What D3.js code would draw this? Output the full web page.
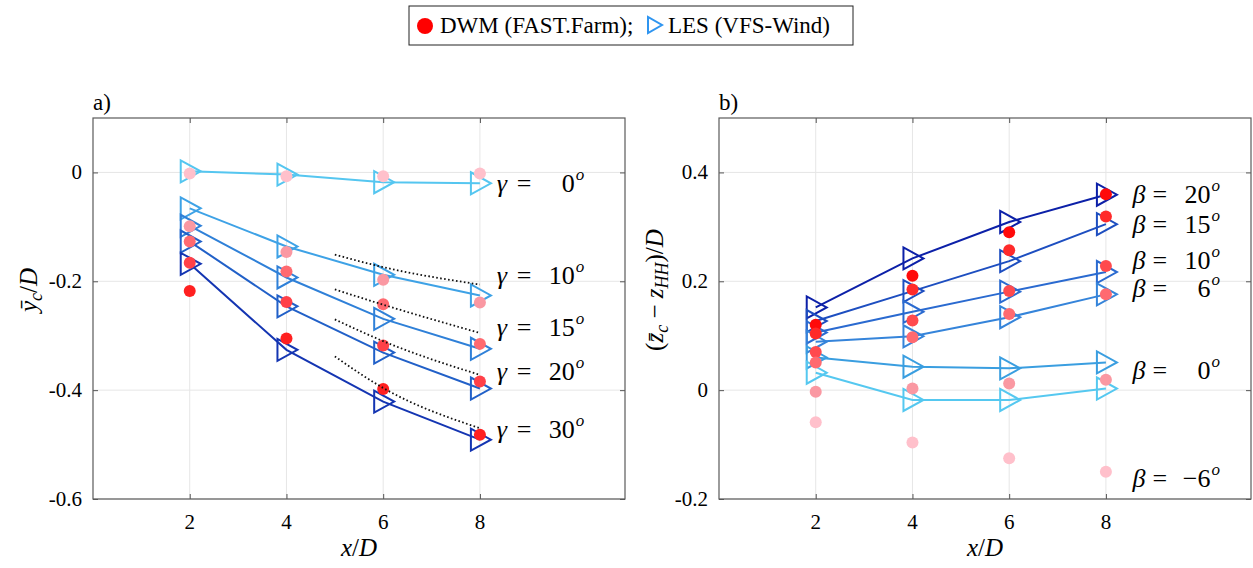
<!DOCTYPE html>
<html>
<head>
<meta charset="utf-8">
<script src="https://cdn.jsdelivr.net/npm/d3@7"></script>
</head>
<body>
<svg id="chart" width="1253" height="568" style="position:absolute;left:0;top:0"></svg>
<script>
// downstream positions
const xD = [2, 4, 6, 8];
const xTicks = [2, 4, 6, 8];

// panel a: yaw cases
const gammaCases = ['0', '10', '15', '20', '30'];
const lesYc = [
  [0.002, -0.004, -0.018, -0.020],
  [-0.066, -0.136, -0.188, -0.226],
  [-0.098, -0.193, -0.269, -0.324],
  [-0.127, -0.246, -0.331, -0.397],
  [-0.168, -0.326, -0.421, -0.491]
];
const dwmYc = [
  [-0.002, -0.007, -0.007, -0.002],
  [-0.099, -0.146, -0.197, -0.239],
  [-0.127, -0.182, -0.242, -0.315],
  [-0.166, -0.238, -0.318, -0.384],
  [-0.218, -0.305, -0.398, -0.482]
];
const dottedX = [5, 6, 8];
const dottedYc = [
  [-0.151, -0.174, -0.206],
  [-0.215, -0.243, -0.295],
  [-0.270, -0.310, -0.372],
  [-0.338, -0.396, -0.470]
];
const yTicksA = [0, -0.2, -0.4, -0.6];

// panel b: tilt cases
const betaCases = ['20', '15', '10', '6', '0', '\u22126'];
const lesZc = [
  [0.152, 0.242, 0.309, 0.359],
  [0.127, 0.182, 0.237, 0.305],
  [0.106, 0.144, 0.181, 0.217],
  [0.089, 0.099, 0.134, 0.176],
  [0.060, 0.043, 0.040, 0.051],
  [0.032, -0.018, -0.018, 0.003]
];
const dwmZc = [
  [0.120, 0.210, 0.290, 0.360],
  [0.104, 0.185, 0.257, 0.319],
  [0.070, 0.128, 0.182, 0.228],
  [0.051, 0.097, 0.140, 0.176],
  [-0.003, 0.003, 0.012, 0.019],
  [-0.059, -0.096, -0.125, -0.150]
];
const yTicksB = [-0.2, 0, 0.2, 0.4];

// colours
const lesColA = ['#55c6f0', '#3ea2e6', '#2f80d8', '#2160c8', '#1435b2'];
const dwmColA = ['#ffc0cb', '#fa98a2', '#ff6a70', '#ff4048', '#ff2020'];
const lesColB = ['#0c20a8', '#1d4ec0', '#2a6ad0', '#3584da', '#3a9ee0', '#55c8f0'];
const dwmColB = ['#ff0a0a', '#ff2a2a', '#ff4a4e', '#ff6a70', '#fa98a2', '#ffc0cb'];

// label anchors (data units)
const labelYA = [-0.022, -0.191, -0.285, -0.366, -0.473];
const labelYB = [0.358, 0.303, 0.237, 0.185, 0.035, -0.163];

const FONT = '"Liberation Serif"';
const svg = d3.select('#chart');

const tri = 'M-9,-11L-9,11L11,0Z';

function txt(sel, size, italic) {
  const t = sel.append('text').style('font-family', FONT).style('font-size', size + 'px');
  if (italic) t.style('font-style', 'italic');
  return t;
}

function panel(opts) {
  const { left, right, top, bottom, yDomain, yTicks, les, dwm, lesCol, dwmCol } = opts;
  const x = d3.scaleLinear().domain([0, 11]).range([left, right]);
  const y = d3.scaleLinear().domain(yDomain).range([bottom, top]);
  const g = svg.append('g');

  // grid
  g.selectAll('.gx').data(xTicks).enter().append('line')
    .attr('x1', d => x(d)).attr('x2', d => x(d)).attr('y1', top).attr('y2', bottom)
    .attr('stroke', '#e6e6e6').attr('stroke-width', 1);
  g.selectAll('.gy').data(yTicks).enter().append('line')
    .attr('x1', left).attr('x2', right).attr('y1', d => y(d)).attr('y2', d => y(d))
    .attr('stroke', '#e6e6e6').attr('stroke-width', 1);

  // axes: tick marks from d3, labels drawn as own text
  g.append('g').attr('transform', `translate(0,${bottom})`)
    .call(d3.axisBottom(x).tickValues(xTicks).tickSizeInner(-5).tickSizeOuter(0).tickFormat(''));
  g.append('g').attr('transform', `translate(0,${top})`)
    .call(d3.axisTop(x).tickValues(xTicks).tickSizeInner(-5).tickSizeOuter(0).tickFormat(''));
  g.append('g').attr('transform', `translate(${left},0)`)
    .call(d3.axisLeft(y).tickValues(yTicks).tickSizeInner(-5).tickSizeOuter(0).tickFormat(''));
  g.append('g').attr('transform', `translate(${right},0)`)
    .call(d3.axisRight(y).tickValues(yTicks).tickSizeInner(-5).tickSizeOuter(0).tickFormat(''));
  g.selectAll('.domain').remove();
  g.selectAll('.tick line').attr('stroke', '#555');
  g.selectAll('.tick text').remove();

  xTicks.forEach(v => {
    txt(g, 21).attr('x', x(v)).attr('y', bottom + 30).attr('text-anchor', 'middle').text(String(v));
  });
  yTicks.forEach(v => {
    txt(g, 21).attr('x', left - 11).attr('y', y(v) + 7).attr('text-anchor', 'end').text(String(v));
  });

  g.append('rect').attr('x', left).attr('y', top).attr('width', right - left).attr('height', bottom - top)
    .attr('fill', 'none').attr('stroke', '#5a5a5a').attr('stroke-width', 1.2);

  const line = d3.line().x((d, i) => x(xD[i])).y(d => y(d));

  les.forEach((s, k) => {
    g.append('path').attr('d', line(s)).attr('fill', 'none')
      .attr('stroke', lesCol[k]).attr('stroke-width', 2);
  });
  les.forEach((s, k) => {
    g.selectAll(null).data(s).enter().append('path')
      .attr('d', tri)
      .attr('transform', (d, i) => `translate(${x(xD[i])},${y(d)})`)
      .attr('fill', 'none').attr('stroke', lesCol[k]).attr('stroke-width', 2);
  });
  dwm.forEach((s, k) => {
    g.selectAll(null).data(s).enter().append('circle')
      .attr('cx', (d, i) => x(xD[i])).attr('cy', d => y(d)).attr('r', 6)
      .attr('fill', dwmCol[k]);
  });
  return { g, x, y };
}

const A = panel({
  left: 93, right: 625, top: 118, bottom: 499, yDomain: [-0.6, 0.1], yTicks: yTicksA,
  les: lesYc, dwm: dwmYc, lesCol: lesColA, dwmCol: dwmColA
});
const B = panel({
  left: 719, right: 1251, top: 118, bottom: 499, yDomain: [-0.2, 0.5], yTicks: yTicksB,
  les: lesZc, dwm: dwmZc, lesCol: lesColB, dwmCol: dwmColB
});

// dotted reference lines in panel a
const dl = d3.line().curve(d3.curveMonotoneX).x((d, i) => A.x(dottedX[i])).y(d => A.y(d));
dottedYc.forEach(s => {
  A.g.append('path').attr('d', dl(s)).attr('fill', 'none')
    .attr('stroke', '#111').attr('stroke-width', 1.8).attr('stroke-dasharray', '1.6,2.4');
});

// case labels
function caseLabel(g, px, py, sym, num) {
  const t = g.append('g').attr('transform', `translate(${px},${py})`);
  txt(t, 26, true).attr('x', 0).attr('y', 8).text(sym);
  txt(t, 26).attr('x', 20).attr('y', 8).text('=');
  txt(t, 26).attr('x', 78).attr('y', 8).attr('text-anchor', 'end').text(num);
  txt(t, 17, true).attr('x', 79).attr('y', -4).text('o');
}
gammaCases.forEach((c, k) => caseLabel(A.g, A.x(8.35), A.y(labelYA[k]), '\u03b3', c));
betaCases.forEach((c, k) => caseLabel(B.g, B.x(8.55), B.y(labelYB[k]), '\u03b2', c));

// panel tags
txt(svg, 23).attr('x', 93).attr('y', 110).text('a)');
txt(svg, 23).attr('x', 719).attr('y', 110).text('b)');

// x labels
[A, B].forEach(P => {
  const t = txt(svg, 25).attr('x', P.x(5.5)).attr('y', 556).attr('text-anchor', 'middle');
  t.append('tspan').style('font-style', 'italic').text('x');
  t.append('tspan').text('/');
  t.append('tspan').style('font-style', 'italic').text('D');
});

// y labels
const ya = txt(svg, 25).attr('transform', 'translate(37,290) rotate(-90)').attr('text-anchor', 'middle');
ya.append('tspan').style('font-style', 'italic').text('\u0233');
ya.append('tspan').attr('dy', 5).style('font-size', '18px').style('font-style', 'italic').text('c');
ya.append('tspan').attr('dy', -5).text('/');
ya.append('tspan').style('font-style', 'italic').text('D');

const yb = txt(svg, 25).attr('transform', 'translate(663,290) rotate(-90)').attr('text-anchor', 'middle');
yb.append('tspan').text('(');
yb.append('tspan').style('font-style', 'italic').text('z\u0304');
yb.append('tspan').attr('dy', 5).style('font-size', '18px').style('font-style', 'italic').text('c');
yb.append('tspan').attr('dy', -5).text(' \u2212 ');
yb.append('tspan').style('font-style', 'italic').text('z');
yb.append('tspan').attr('dy', 5).style('font-size', '18px').style('font-style', 'italic').text('HH');
yb.append('tspan').attr('dy', -5).text(')/');
yb.append('tspan').style('font-style', 'italic').text('D');

// legend
const lg = svg.append('g');
lg.append('rect').attr('x', 409).attr('y', 6).attr('width', 444).attr('height', 39)
  .attr('fill', '#fff').attr('stroke', '#222').attr('stroke-width', 1);
lg.append('circle').attr('cx', 425).attr('cy', 26).attr('r', 8).attr('fill', '#ff0000');
txt(lg, 23).attr('x', 440).attr('y', 33).text('DWM (FAST.Farm);');
lg.append('path').attr('d', 'M-6,-8L-6,8L8,0Z').attr('transform', 'translate(654,25)')
  .attr('fill', 'none').attr('stroke', '#2f95f0').attr('stroke-width', 2);
txt(lg, 23).attr('x', 668).attr('y', 33).text('LES (VFS-Wind)');
</script>
</body>
</html>
